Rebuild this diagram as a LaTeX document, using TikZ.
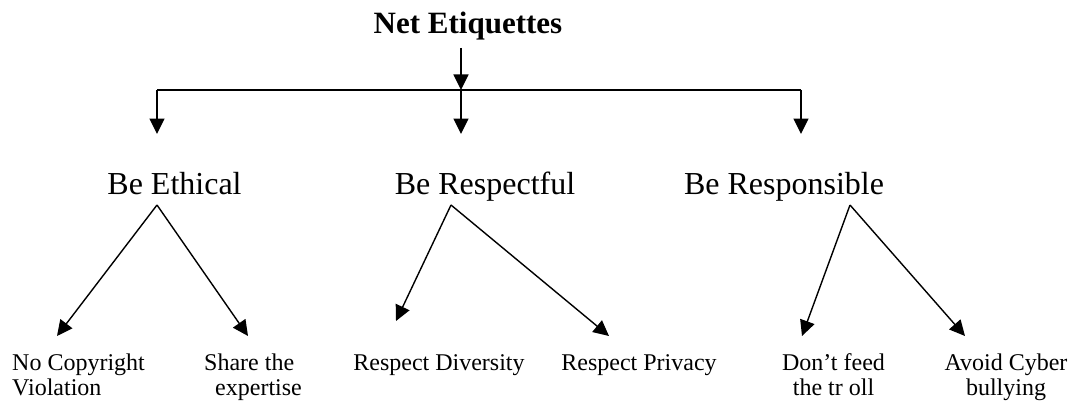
\documentclass[tikz,border=0pt]{standalone}
\usepackage{fontspec}
\setmainfont{Liberation Serif}
\usetikzlibrary{arrows.meta}
\tikzset{
  arr/.style={line width=1.4pt,-{Triangle[length=15.5pt,width=15pt]}},
  ln/.style={line width=1.4pt},
  ttl/.style={anchor=base,inner sep=0pt,font=\bfseries\fontsize{31}{36}\selectfont},
  mid/.style={anchor=base,inner sep=0pt,font=\fontsize{32}{38}\selectfont},
  leaf/.style={anchor=base,inner sep=0pt,font=\fontsize{24}{25}\selectfont},
}
\begin{document}
\begin{tikzpicture}[x=1pt,y=-1pt]
\useasboundingbox (0,0) rectangle (1074,404);
% texts
\node[ttl] (title) at (468,34) {Net Etiquettes};
\node[mid] (eth) at (174.5,194) {Be Ethical};
\node[mid] (rspf) at (485,194) {Be Respectful};
\node[mid] (rspn) at (784,194) {Be Responsible};
\node[leaf,align=left,anchor=base west] (nc) at (12,395) {No Copyright\\Violation};
\node[leaf,align=left,anchor=base west] (sh) at (204,395) {Share the\\\hspace*{11pt}expertise};
\node[leaf] (rd) at (439,370) {Respect Diversity};
\node[leaf] (rp) at (639,370) {Respect Privacy};
\node[leaf,align=center] (df) at (833.5,395) {Don’t feed\\the tr oll};
\node[leaf,align=center] (ac) at (1006,395) {Avoid Cyber\\bullying};
% coordinates
\coordinate (tA) at (461,48);
\coordinate (hub) at (461,90);
\coordinate (hL) at (157,90);
\coordinate (hR) at (801,90);
\coordinate (ethT) at (157,134);
\coordinate (rspfT) at (461,134);
\coordinate (rspnT) at (801,134);
\coordinate (ethA) at (157,205);
\coordinate (rspfA) at (451,205);
\coordinate (rspnA) at (850,205);
\coordinate (ncT) at (57,336);
\coordinate (shT) at (248,336);
\coordinate (rdT) at (396,321);
\coordinate (rpT) at (609,336);
\coordinate (dfT) at (802,336);
\coordinate (acT) at (965,336);
% connectors
\draw[arr] (tA) -- (hub);
\draw[ln] (hL) -- (hR);
\draw[arr] (hL) -- (ethT);
\draw[arr] (hub) -- (rspfT);
\draw[arr] (hR) -- (rspnT);
\draw[arr] (ethA) -- (ncT);
\draw[arr] (ethA) -- (shT);
\draw[arr] (rspfA) -- (rdT);
\draw[arr] (rspfA) -- (rpT);
\draw[arr] (rspnA) -- (dfT);
\draw[arr] (rspnA) -- (acT);
\end{tikzpicture}
\end{document}
